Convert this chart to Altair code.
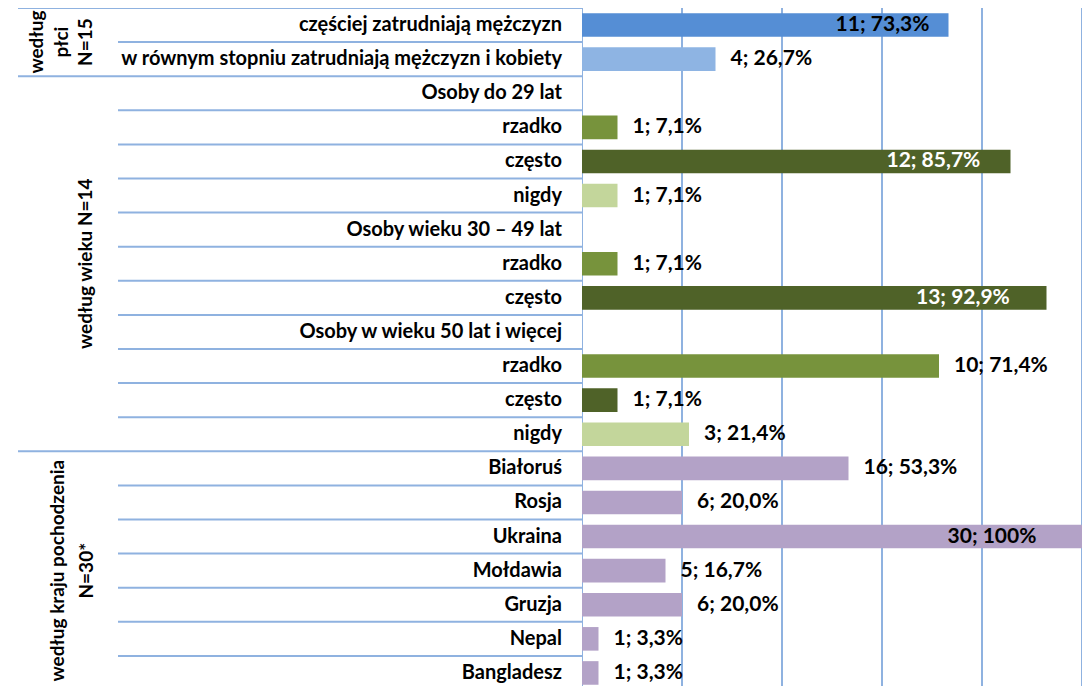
import altair as alt
import pandas as pd

categories = [
    "częściej zatrudniają mężczyzn",
    "w równym stopniu zatrudniają mężczyzn i kobiety",
    "Osoby do 29 lat", "rzadko", "często", "nigdy",
    "Osoby wieku 30 – 49 lat", "rzadko", "często",
    "Osoby w wieku 50 lat i więcej", "rzadko", "często", "nigdy",
    "Białoruś", "Rosja", "Ukraina", "Mołdawia", "Gruzja", "Nepal", "Bangladesz",
]
counts = [11, 4, None, 1, 12, 1, None, 1, 13, None, 10, 1, 3, 16, 6, 30, 5, 6, 1, 1]
percents = [73.3, 26.7, None, 7.1, 85.7, 7.1, None, 7.1, 92.9, None, 71.4, 7.1, 21.4,
            53.3, 20.0, 100.0, 16.7, 20.0, 3.3, 3.3]
series = ["mezczyzni", "rowno", "", "rzadko", "często", "nigdy", "", "rzadko", "często", "",
          "rzadko", "często", "nigdy", "kraj", "kraj", "kraj", "kraj", "kraj", "kraj", "kraj"]
groups = ["plec"] * 2 + ["wiek"] * 11 + ["kraj"] * 7

group_order = ["plec", "wiek", "kraj"]
group_lines = {
    "plec": ["według", "płci", "N=15"],
    "wiek": ["według wieku  N=14"],
    "kraj": ["według kraju pochodzenia", "N=30*"],
}
grid_ticks = [0, 20, 40, 60, 80, 100]

series_domain = ["mezczyzni", "rowno", "rzadko", "często", "nigdy", "kraj"]
series_colors = ["#558ED5", "#8EB4E3", "#77933C", "#4F6228", "#C3D69B", "#B3A2C7"]

FONT = "Lato"
LINE = "#8FB2E0"
ROW_PX = 34.1
N = len(categories)
H = 678
LEFT_W = 574
RIGHT_W = 500
VIS_ROWS = H / ROW_PX


def fmt(c, p):
    if p is None:
        return ""
    s = "100" if p == 100 else f"{p:.1f}".replace(".", ",")
    return f"{c}; {s}%"


rows = pd.DataFrame({
    "idx": list(range(N)),
    "cat": categories,
    "count": counts,
    "pct": percents,
    "series": series,
    "group": groups,
})
rows["label"] = [fmt(c, p) for c, p in zip(counts, percents)]
rows["yc"] = rows["idx"] + 0.5
rows["y0"] = rows["idx"] + 0.154
rows["y1"] = rows["idx"] + 0.846
rows["last"] = rows["group"] != rows["group"].shift(-1)
rows["yb"] = rows["idx"] + 1

yscale = alt.Scale(domain=[0, VIS_ROWS], reverse=True, nice=False, zero=False)
xscale = alt.Scale(domain=[0, 100], nice=False, zero=True)

bars_df = rows[rows["pct"].notna()].copy()

# ---------- right panel ----------
grid = alt.Chart(pd.DataFrame({"g": grid_ticks})).mark_rule(
    color=LINE, strokeWidth=2, clip=True
).encode(x=alt.X("g:Q", scale=xscale, axis=None))

bars = alt.Chart(bars_df).mark_rect(clip=True).encode(
    x=alt.X("pct:Q", scale=xscale, axis=None),
    x2=alt.datum(0),
    y=alt.Y("y0:Q", scale=yscale, axis=None),
    y2="y1:Q",
    color=alt.Color("series:N", scale=alt.Scale(domain=series_domain, range=series_colors), legend=None),
)

out_labels = alt.Chart(bars_df).transform_filter("datum.pct < 72").mark_text(
    align="left", baseline="middle", dx=15, font=FONT, fontWeight="bold", fontSize=21,
    color="black", clip=True
).encode(
    x=alt.X("pct:Q", scale=xscale, axis=None),
    y=alt.Y("yc:Q", scale=yscale, axis=None),
    text="label:N",
)

in_labels = alt.Chart(bars_df).transform_filter("datum.pct >= 72").transform_calculate(
    lx="datum.pct * 0.82"
).mark_text(
    align="center", baseline="middle", font=FONT, fontWeight="bold", fontSize=21, clip=True
).encode(
    x=alt.X("lx:Q", scale=xscale, axis=None),
    y=alt.Y("yc:Q", scale=yscale, axis=None),
    text="label:N",
    color=alt.condition("datum.series == 'często'", alt.value("white"), alt.value("black")),
)

right = alt.layer(grid, bars, out_labels, in_labels).properties(width=RIGHT_W, height=H)

# ---------- left panel ----------
row_sep = alt.Chart(rows[~rows["last"]]).mark_rule(color=LINE, strokeWidth=2, clip=True).encode(
    x=alt.value(110), x2=alt.value(LEFT_W),
    y=alt.Y("yb:Q", scale=yscale, axis=None),
)
grp_df = pd.concat([pd.DataFrame({"yb": [0]}), rows[rows["last"]][["yb"]]])
grp_sep = alt.Chart(grp_df).mark_rule(color=LINE, strokeWidth=2, clip=True).encode(
    x=alt.value(10), x2=alt.value(LEFT_W),
    y=alt.Y("yb:Q", scale=yscale, axis=None),
)

cat_text = alt.Chart(rows).mark_text(
    align="right", baseline="middle", font=FONT, fontWeight="bold", fontSize=20,
    color="black", clip=True
).encode(
    x=alt.value(554),
    y=alt.Y("yc:Q", scale=yscale, axis=None),
    text="cat:N",
)

# (x of first line, line height) for each rotated group label
grp_pos = {"plec": (29, 24.5), "wiek": (78, 24), "kraj": (50, 29)}
grp_layers = []
for g in group_order:
    sub = rows[rows["group"] == g]
    ymid = (sub["idx"].min() + sub["idx"].max() + 1) / 2
    df = pd.DataFrame({"ym": [ymid], "t": [group_lines[g]]})
    gx, lh = grp_pos[g]
    grp_layers.append(
        alt.Chart(df).mark_text(
            angle=270, align="center", baseline="middle", font=FONT, fontWeight="bold",
            fontSize=19, color="black", lineHeight=lh, clip=True
        ).encode(
            x=alt.value(gx),
            y=alt.Y("ym:Q", scale=yscale, axis=None),
            text="t",
        )
    )

left = alt.layer(row_sep, grp_sep, cat_text, *grp_layers).properties(width=LEFT_W, height=H)

chart = alt.hconcat(left, right, spacing=0).properties(
    padding=0, background="white"
).configure_view(stroke=None)

chart.save("out.html", embed_options={"renderer": "svg", "actions": False})
